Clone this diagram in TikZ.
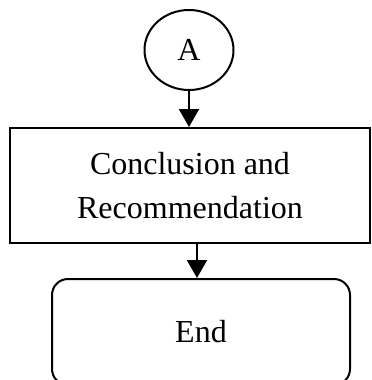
\documentclass[tikz,border=0pt]{standalone}
\usepackage{fontspec}
\setmainfont{Liberation Serif}
\usetikzlibrary{arrows.meta,shapes,calc}

\begin{document}
\begin{tikzpicture}[x=0.5pt,y=-0.5pt]
            \tikzset{connector/.style = {draw, line width=1pt, ellipse, minimum width=44.5pt, minimum height=40pt, inner sep=0pt, font=\fontsize{16}{19}\selectfont}}
            \tikzset{process/.style = {draw, line width=1pt, rectangle, minimum width=180pt, minimum height=57.5pt, align=center, font=\fontsize{16}{22}\selectfont}}
            \tikzset{terminator/.style = {draw, line width=1pt, rounded corners=8pt, minimum width=149pt, minimum height=53pt, font=\fontsize{16}{19}\selectfont}}
            \tikzset{edge/.style = {-{Triangle[length=9pt,width=10pt]}, line width=1pt}}

            \useasboundingbox (0,0) rectangle (371,380);
            \clip (0,0) rectangle (371,380);

            % vertices
            \node[connector] (A) at (189,50) {A};
            \node[process] (concl) at (190,185.5) {Conclusion and\\Recommendation};
            \node[terminator] (finish) at (201,332) {End};

            % edges
            \draw[edge] (A) -- (A |- concl.north);
            \draw[edge] (concl.south -| 197,0) -- (finish.north -| 197,0);

          \end{tikzpicture}
\end{document}
